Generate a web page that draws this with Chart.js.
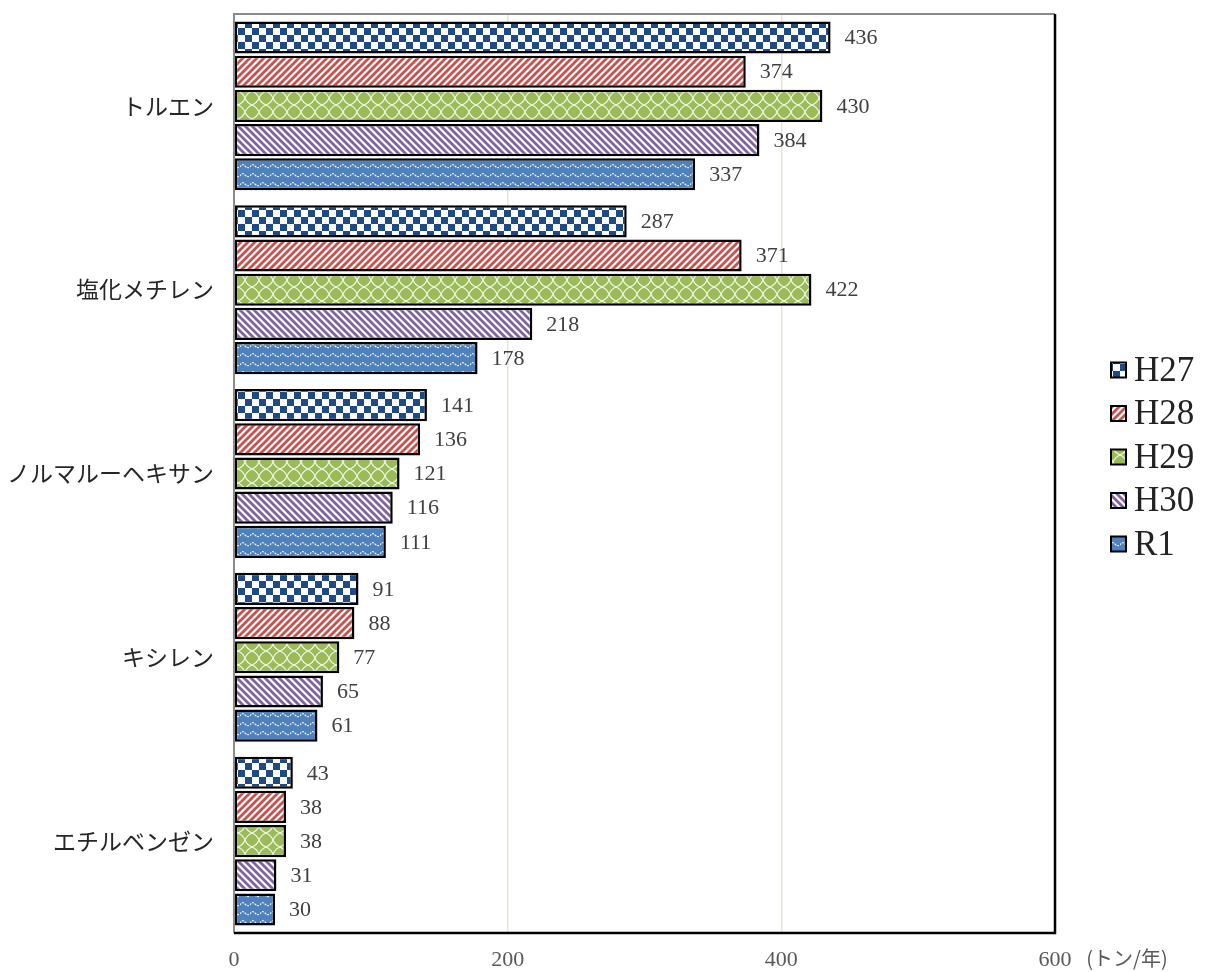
<!DOCTYPE html>
<html>
<head>
<meta charset="utf-8">
<script src="https://cdn.jsdelivr.net/npm/chart.js@4"></script>
<style>
  html, body { margin: 0; padding: 0; background: #fff; }
  #wrap { width: 1209px; height: 972px; }
</style>
</head>
<body>
<div id="wrap"><canvas id="chart"></canvas></div>
<script>
const categories = ['トルエン', '塩化メチレン', 'ノルマルーヘキサン', 'キシレン', 'エチルベンゼン'];
const seriesNames = ['H27', 'H28', 'H29', 'H30', 'R1'];
const h27 = [436, 287, 141, 91, 43];
const h28 = [374, 371, 136, 88, 38];
const h29 = [430, 422, 121, 77, 38];
const h30 = [384, 218, 116, 65, 31];
const r1 = [337, 178, 111, 61, 30];
const xTicks = [0, 200, 400, 600];
const unitLabel = '(トン/年)';

function makePattern(kind) {
    const c = document.createElement('canvas');
    const g = c.getContext('2d');
    if (kind === 'checker') {
        c.width = c.height = 14;
        g.fillStyle = '#fff'; g.fillRect(0, 0, 14, 14);
        g.fillStyle = '#1f4a84';
        g.fillRect(0, 0, 7, 7); g.fillRect(7, 7, 7, 7);
    } else if (kind === 'fwd' || kind === 'back') {
        c.width = c.height = 7;
        g.fillStyle = '#fff'; g.fillRect(0, 0, 7, 7);
        g.strokeStyle = kind === 'fwd' ? '#c9504c' : '#7f63a1';
        g.lineWidth = 2.8;
        g.beginPath();
        if (kind === 'fwd') {
            g.moveTo(-1, 8); g.lineTo(8, -1);
            g.moveTo(-1, 1); g.lineTo(1, -1);
            g.moveTo(6, 8); g.lineTo(8, 6);
        } else {
            g.moveTo(-1, -1); g.lineTo(8, 8);
            g.moveTo(6, -1); g.lineTo(8, 1);
            g.moveTo(-1, 6); g.lineTo(1, 8);
        }
        g.stroke();
    } else if (kind === 'lattice') {
        c.width = c.height = 14;
        g.fillStyle = '#9bbb59'; g.fillRect(0, 0, 14, 14);
        g.strokeStyle = 'rgba(255,255,255,0.85)';
        g.lineWidth = 1.2;
        g.beginPath();
        g.moveTo(0, 7); g.quadraticCurveTo(5, 5, 7, 0);
        g.moveTo(7, 0); g.quadraticCurveTo(9, 5, 14, 7);
        g.moveTo(14, 7); g.quadraticCurveTo(9, 9, 7, 14);
        g.moveTo(7, 14); g.quadraticCurveTo(5, 9, 0, 7);
        g.stroke();
    } else if (kind === 'wave') {
        c.width = 10; c.height = 9;
        g.fillStyle = '#4f81bd'; g.fillRect(0, 0, 10, 9);
        g.strokeStyle = 'rgba(255,255,255,0.9)';
        g.lineWidth = 1.1;
        g.setLineDash([2, 1]);
        g.beginPath();
        g.moveTo(0, 5);
        g.bezierCurveTo(2, 2, 3, 2, 5, 4);
        g.bezierCurveTo(7, 6, 8, 6, 10, 5);
        g.stroke();
    }
    return g.createPattern(c, 'repeat');
}

const fills = [makePattern('checker'), makePattern('fwd'), makePattern('lattice'), makePattern('back'), makePattern('wave')];
const seriesValues = [h27, h28, h29, h30, r1];

const serif = "'Liberation Serif', 'DejaVu Serif', serif";
const jp = "'Noto Sans CJK JP', 'Noto Sans', sans-serif";

const valueLabels = {
    id: 'valueLabels',
    afterDatasetsDraw(chart) {
        const ctx = chart.ctx;
        ctx.save();
        ctx.font = '22px ' + serif;
        ctx.fillStyle = '#404040';
        ctx.textAlign = 'left';
        ctx.textBaseline = 'middle';
        chart.data.datasets.forEach((ds, i) => {
            chart.getDatasetMeta(i).data.forEach((bar, j) => {
                ctx.fillText(ds.data[j], bar.x + 14, bar.y + 1);
            });
        });
        ctx.restore();
    }
};

const frame = {
    id: 'frame',
    afterDraw(chart) {
        const { ctx, chartArea: a } = chart;
        ctx.save();
        ctx.lineWidth = 2;
        ctx.strokeStyle = '#8c8c8c';
        ctx.beginPath();
        ctx.moveTo(a.left, a.bottom); ctx.lineTo(a.left, a.top); ctx.lineTo(a.right, a.top);
        ctx.stroke();
        ctx.strokeStyle = '#000';
        ctx.lineWidth = 2.5;
        ctx.beginPath();
        ctx.moveTo(a.right, a.top); ctx.lineTo(a.right, a.bottom); ctx.lineTo(a.left, a.bottom);
        ctx.stroke();

        // unit label next to the x ticks
        ctx.font = '20px ' + jp;
        ctx.fillStyle = '#595959';
        ctx.textAlign = 'center';
        ctx.textBaseline = 'middle';
        ctx.fillText(unitLabel, a.right + 72, a.bottom + 25);

        // legend
        const mid = (a.top + a.bottom) / 2;
        const step = 43.5;
        chart.data.datasets.forEach((ds, i) => {
            const y = mid - 103 + i * step;
            const x = a.right + 56;
            ctx.fillStyle = ds.backgroundColor;
            ctx.fillRect(x, y - 8, 15, 15);
            ctx.strokeStyle = '#000';
            ctx.lineWidth = 2;
            ctx.strokeRect(x, y - 8, 15, 15);
            ctx.font = '35px ' + serif;
            ctx.fillStyle = '#222';
            ctx.textAlign = 'left';
            ctx.fillText(ds.label, x + 23, y + 1);
        });
        ctx.restore();
    }
};

new Chart(document.getElementById('chart'), {
    type: 'bar',
    data: {
        labels: categories,
        datasets: seriesNames.map((name, i) => ({
            label: name,
            data: seriesValues[i],
            backgroundColor: fills[i],
            borderColor: '#000',
            borderWidth: 2.5,
            borderSkipped: false,
            categoryPercentage: 0.93,
            barPercentage: 0.94
        }))
    },
    options: {
        indexAxis: 'y',
        responsive: true,
        maintainAspectRatio: false,
        animation: false,
        layout: { padding: { top: 14, right: 154, left: 0, bottom: 0 } },
        plugins: {
            legend: { display: false },
            tooltip: { enabled: false }
        },
        scales: {
            x: {
                min: 0,
                max: 600,
                afterBuildTicks: axis => { axis.ticks = xTicks.map(v => ({ value: v })); },
                afterFit: scale => {
                    scale.height = 39;
                    scale.paddingLeft = 0; scale.paddingRight = 0;
                    scale.paddingTop = 0; scale.paddingBottom = 0;
                },
                border: { display: false },
                grid: {
                    drawTicks: false,
                    lineWidth: 1.5,
                    color: ctx => (ctx.tick && (ctx.tick.value === 0 || ctx.tick.value === 600)) ? 'rgba(0,0,0,0)' : '#e8e5d8'
                },
                ticks: {
                    padding: 14,
                    color: '#595959',
                    font: { family: serif, size: 22 }
                }
            },
            y: {
                afterFit: scale => {
                    scale.width = 234;
                    scale.paddingTop = 0; scale.paddingBottom = 0;
                    scale.paddingLeft = 0; scale.paddingRight = 0;
                },
                border: { display: false },
                grid: { display: false, drawTicks: false },
                ticks: {
                    padding: 20,
                    color: '#262626',
                    font: { family: jp, size: 23 }
                }
            }
        }
    },
    plugins: [valueLabels, frame]
});
</script>
</body>
</html>
